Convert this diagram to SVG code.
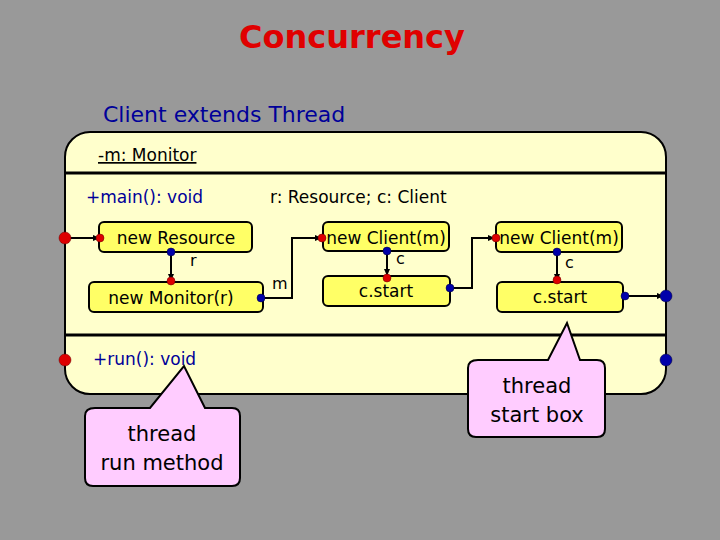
<svg xmlns="http://www.w3.org/2000/svg" width="720" height="540" viewBox="0 0 720 540">
<defs>
<marker id="ah" markerWidth="8" markerHeight="8" refX="7" refY="4" orient="auto" markerUnits="userSpaceOnUse"><path d="M0,1 L7,4 L0,7 Z" fill="#000"/></marker>
<style>
text{font-family:"DejaVu Sans","Liberation Sans",sans-serif}
.box{fill:#ffff66;stroke:#000;stroke-width:2}
.lbl{font-size:17px;fill:#000;text-anchor:middle}
.blue{fill:#000099}
.red{fill:#dd0000;stroke:#600;stroke-width:0.5}
.bl{fill:#0000aa;stroke:#003;stroke-width:0.5}
.w{fill:none;stroke:#000;stroke-width:2}
.call{fill:#ffccff;stroke:#000;stroke-width:2}
</style>
</defs>
<rect width="720" height="540" fill="#999999"/>
<text x="352" y="48" font-size="32" font-weight="bold" fill="#e00000" text-anchor="middle">Concurrency</text>
<text x="103" y="122" font-size="22" fill="#000099">Client extends Thread</text>
<g id="class">
<rect x="65" y="132" width="601" height="262" rx="25" fill="#ffffcc" stroke="#000" stroke-width="2"/>
<line x1="65" y1="173" x2="666" y2="173" stroke="#000" stroke-width="3"/>
<line x1="65" y1="335" x2="666" y2="335" stroke="#000" stroke-width="3"/>
<text x="98" y="161" font-size="17" fill="#000" text-decoration="underline">-m: Monitor</text>
<text x="86" y="203" font-size="17" fill="#000099">+main(): void</text>
<text x="270" y="203" font-size="17" fill="#000">r: Resource; c: Client</text>
<text x="93" y="365" font-size="17" fill="#000099">+run(): void</text>
</g>
<g id="n1"><rect class="box" x="99" y="222" width="153" height="30" rx="5"/><text class="lbl" x="176" y="244">new Resource</text></g>
<g id="n2"><rect class="box" x="89" y="282" width="174" height="30" rx="5"/><text class="lbl" x="171" y="304">new Monitor(r)</text></g>
<g id="n3"><rect class="box" x="323" y="222" width="126" height="29" rx="5"/><text class="lbl" x="386" y="244">new Client(m)</text></g>
<g id="n4"><rect class="box" x="323" y="276" width="127" height="30" rx="5"/><text class="lbl" x="386" y="297">c.start</text></g>
<g id="n5"><rect class="box" x="496" y="222" width="126" height="30" rx="5"/><text class="lbl" x="559" y="244">new Client(m)</text></g>
<g id="n6"><rect class="box" x="497" y="282" width="126" height="30" rx="5"/><text class="lbl" x="560" y="303">c.start</text></g>
<g id="connectors">
<path class="w" d="M65,238 H100" marker-end="url(#ah)"/>
<path class="w" d="M171,252 V281" marker-end="url(#ah)"/>
<path class="w" d="M263,298 H292 V238 H322" marker-end="url(#ah)"/>
<path class="w" d="M387,251 V276" marker-end="url(#ah)"/>
<path class="w" d="M450,288 H472 V238 H495" marker-end="url(#ah)"/>
<path class="w" d="M557,252 V281" marker-end="url(#ah)"/>
<path class="w" d="M623,296 H664" marker-end="url(#ah)"/>
<text x="190" y="266" font-size="16">r</text>
<text x="272" y="289" font-size="16">m</text>
<text x="396" y="264" font-size="16">c</text>
<text x="565" y="268" font-size="16">c</text>
</g>
<g id="ports">
<circle class="red" cx="65" cy="238" r="6"/><circle class="red" cx="100" cy="238" r="4"/>
<circle class="bl" cx="171" cy="252" r="4"/><circle class="red" cx="171" cy="281" r="4"/>
<circle class="bl" cx="261" cy="298" r="4"/><circle class="red" cx="322" cy="238" r="4"/>
<circle class="bl" cx="387" cy="251" r="4"/><circle class="red" cx="387" cy="278" r="4"/>
<circle class="bl" cx="450" cy="288" r="4"/><circle class="red" cx="496" cy="238" r="4"/>
<circle class="bl" cx="557" cy="252" r="4"/><circle class="red" cx="557" cy="280" r="4"/>
<circle class="bl" cx="625" cy="296" r="4"/><circle class="bl" cx="666" cy="296" r="6"/>
<circle class="bl" cx="666" cy="360" r="6"/><circle class="red" cx="65" cy="360" r="6"/>
</g>
<g id="callout1">
<path class="call" d="M95,408 H150 L184,366 L205,408 H232 Q240,408 240,416 V478 Q240,486 232,486 H93 Q85,486 85,478 V416 Q85,408 95,408 Z"/>
<text x="162" y="441" font-size="21" text-anchor="middle">thread</text>
<text x="162" y="470" font-size="21" text-anchor="middle">run method</text>
</g>
<g id="callout2">
<path class="call" d="M478,360 H548 L567,323 L580,360 H597 Q605,360 605,368 V429 Q605,437 597,437 H476 Q468,437 468,429 V368 Q468,360 478,360 Z"/>
<text x="537" y="393" font-size="21" text-anchor="middle">thread</text>
<text x="537" y="422" font-size="21" text-anchor="middle">start box</text>
</g>
</svg>
